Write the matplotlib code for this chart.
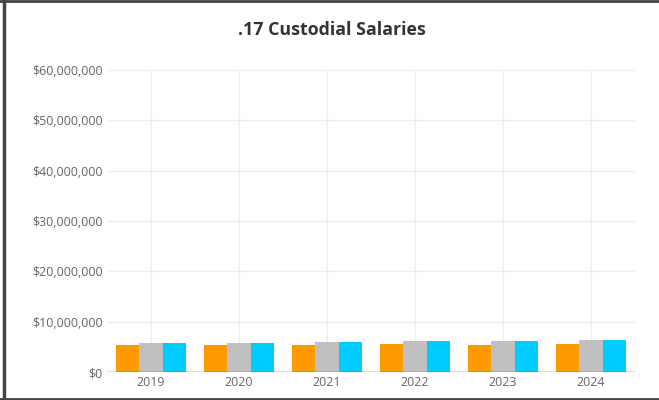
import matplotlib
matplotlib.use("Agg")
import matplotlib.pyplot as plt
import numpy as np
from matplotlib.lines import Line2D
from matplotlib.ticker import FuncFormatter

plt.rcParams['font.family'] = ['Open Sans', 'DejaVu Sans']

years = ["2019", "2020", "2021", "2022", "2023", "2024"]
series_a = [5.4e6, 5.3e6, 5.3e6, 5.5e6, 5.45e6, 5.5e6]
series_b = [5.7e6, 5.7e6, 5.95e6, 6.1e6, 6.2e6, 6.35e6]
series_c = [5.7e6, 5.7e6, 5.95e6, 6.1e6, 6.2e6, 6.35e6]
colors = ["#FF9900", "#C0C0C0", "#00CCFF"]
y_ticks = [0, 10e6, 20e6, 30e6, 40e6, 50e6, 60e6]

W, H = 659, 400
fig = plt.figure(figsize=(W / 100, H / 100), dpi=100)
ax = fig.add_axes([107 / W, 1 - 372 / H, 528 / W, 302 / H])

x = np.arange(len(years))
bw = 0.265
for i, (vals, c) in enumerate(zip([series_a, series_b, series_c], colors)):
    ax.bar(x + (i - 1) * bw, vals, width=bw, color=c, zorder=3)

ax.set_xlim(-0.5, len(years) - 0.5)
ax.set_ylim(0, 60e6)
ax.set_yticks(y_ticks)
ax.yaxis.set_major_formatter(FuncFormatter(lambda v, p: f"${int(v):,}"))
ax.set_xticks(x)
ax.set_xticklabels(years)
ax.grid(True, color="#eeeeee", linewidth=1, zorder=0)
for s in ax.spines.values():
    s.set_visible(False)
ax.axhline(0, color="#555555", linewidth=1, zorder=4)
ax.tick_params(axis="both", length=0, colors="#666666", labelsize=8.9)
ax.tick_params(axis="y", pad=3)
ax.tick_params(axis="x", pad=3)

fig.text(332 / W, 1 - 30 / H, ".17 Custodial Salaries", ha="center", va="center",
         fontsize=12.8, fontweight="bold", color="#333333")

# outer frame (top, left, bottom)
fig.add_artist(Line2D([0, 1], [1 - 1 / H, 1 - 1 / H], transform=fig.transFigure, color="#444444", linewidth=2))
fig.add_artist(Line2D([3.5 / W, 3.5 / W], [0, 1], transform=fig.transFigure, color="#444444", linewidth=2.5))
fig.add_artist(Line2D([0, 1], [1.5 / H, 1.5 / H], transform=fig.transFigure, color="#444444", linewidth=2))

fig.savefig("out.png", dpi=100)
